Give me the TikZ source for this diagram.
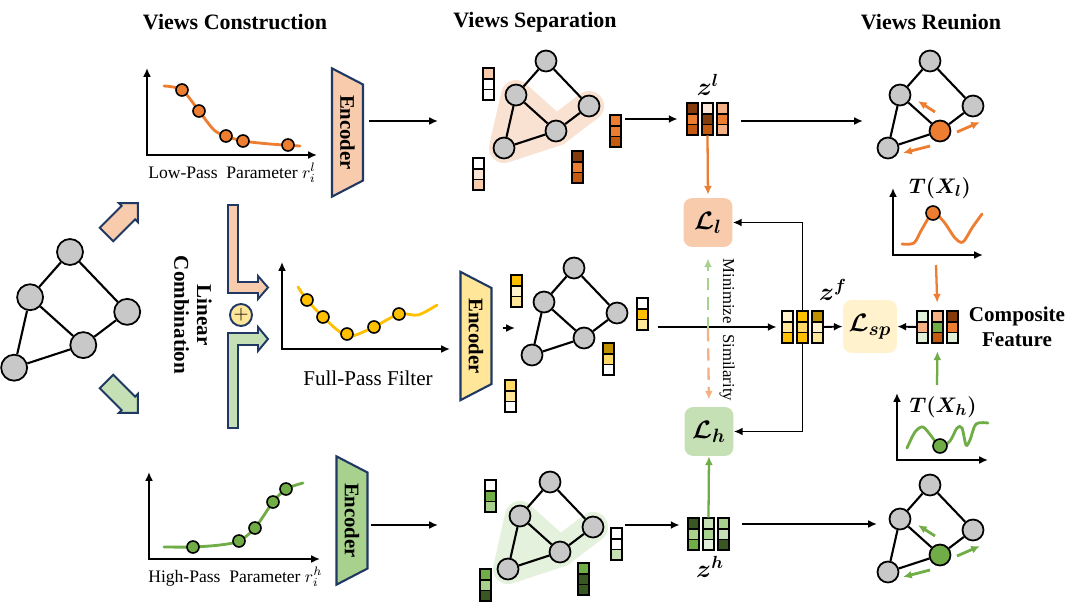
\documentclass[tikz,border=0pt]{standalone}
\usepackage{fontspec}
\setmainfont{Liberation Serif}
\usepackage{amsmath}
\usepackage{tikz}
\usetikzlibrary{shapes.geometric, arrows.meta, positioning, backgrounds}
\definecolor{navyline}{RGB}{32, 56, 100}
\definecolor{lowpeach}{RGB}{248, 203, 173}
\definecolor{lowpale}{RGB}{251, 229, 214}
\definecolor{lowmid}{RGB}{244, 177, 131}
\definecolor{loworange}{RGB}{237, 125, 49}
\definecolor{lowdeep}{RGB}{197, 90, 17}
\definecolor{lowbrown}{RGB}{132, 60, 12}
\definecolor{lowhalo}{RGB}{250, 226, 210}
\definecolor{fullgold}{RGB}{255, 192, 0}
\definecolor{fulldark}{RGB}{191, 144, 0}
\definecolor{fullmid}{RGB}{255, 217, 102}
\definecolor{fulllight}{RGB}{255, 230, 153}
\definecolor{fullpale}{RGB}{255, 242, 204}
\definecolor{highgreen}{RGB}{112, 173, 71}
\definecolor{highdark}{RGB}{56, 87, 35}
\definecolor{highmid}{RGB}{169, 209, 142}
\definecolor{highsoft}{RGB}{197, 224, 180}
\definecolor{highpale}{RGB}{226, 240, 217}
\definecolor{highhalo}{RGB}{228, 241, 220}
\definecolor{nodegray}{RGB}{200, 200, 200}

\tikzset{
    arr/.style={-{Latex[length=5pt, width=4.5pt]}, line width=1.1pt},
    dasharr/.style={-{Latex[length=5pt, width=4.5pt]}, line width=1.3pt, dash pattern=on 7pt off 4pt},
    axes/.style={{Latex[length=5pt, width=4.5pt]}-{Latex[length=5pt, width=4.5pt]}, line width=1.3pt},
    curve/.style={line width=1.6pt, line cap=round},
    dot/.style={draw=black, line width=0.9pt},
    gnode/.style={circle, draw=black, fill=nodegray, line width=1pt, minimum size=0.42cm, inner sep=0pt},
    gedge/.style={line width=1.2pt},
    cell/.style={draw=black, line width=1pt},
    hlband/.style={line width=0.6cm, line join=round, line cap=round},
    fatarrow/.style={draw=navyline, line width=1.1pt, line join=miter},
    encoder/.style={trapezium, trapezium angle=54, trapezium stretches, rotate=-90,
        draw=navyline, line width=1.2pt, minimum width=2.58cm, minimum height=0.62cm,
        inner sep=1pt, font=\fontsize{11.8}{13}\selectfont\bfseries},
    loss/.style={rounded corners=5pt, minimum width=0.98cm, minimum height=0.98cm,
        inner sep=0pt, font=\fontsize{15}{17}\selectfont},
    title/.style={font=\fontsize{12.5}{15}\selectfont\bfseries},
    plotlabel/.style={font=\fontsize{10}{12}\selectfont, anchor=west, inner sep=0pt},
    zlabel/.style={font=\fontsize{14}{16}\selectfont},
    tlabel/.style={font=\fontsize{12.5}{15}\selectfont}
}

% one feature vector of three cells, named by #1, top left corner #2
\newcommand{\featbar}[5]{%
    \begin{scope}[shift={#2}]
        \filldraw[cell, fill=#3] (0,0) rectangle (11,10.7);
        \filldraw[cell, fill=#4] (0,10.7) rectangle (11,21.4);
        \filldraw[cell, fill=#5] (0,21.4) rectangle (11,32);
        \node[inner sep=0pt, minimum width=0.22cm, minimum height=0.64cm] (#1) at (5.5,16) {};
    \end{scope}}

% the five node graph, #1 prefix, #2 top node, #3 scope options, #4 fill of the centre node
\newcommand{\graphview}[4]{%
    \begin{scope}[shift={#2}, #3]
        \node[gnode] (#1t) at (0,0) {};
        \node[gnode] (#1a) at (-30,34) {};
        \node[gnode] (#1b) at (43,45) {};
        \node[gnode, fill=#4] (#1c) at (10,70) {};
        \node[gnode] (#1d) at (-42,87) {};
    \end{scope}
    \draw[gedge] (#1t) -- (#1a) (#1t) -- (#1b) (#1a) -- (#1c) (#1a) -- (#1d) (#1c) -- (#1b) (#1c) -- (#1d);}

\begin{document}
\begin{tikzpicture}[x=0.02cm, y=-0.02cm]
    \useasboundingbox (0,0) rectangle (1080,602);
    \begin{pgfonlayer}{background}
        \fill[white] (0,0) rectangle (1080,602);
    \end{pgfonlayer}

    % column titles
    \node[title] (titleCons) at (235,22) {Views Construction};
    \node[title] (titleSep) at (535,22) {Views Separation};
    \node[title] (titleReu) at (931,22) {Views Reunion};

    % input graph and the two fat arrows
    \graphview{in}{(70,252)}{scale=1.33, gnode/.append style={minimum size=0.52cm}}{nodegray}
    \begin{scope}[shift={(122,219)}, rotate=45]
        \filldraw[fatarrow, fill=lowpeach] (-22,-9.5) -- (9,-9.5) -- (9,-13.5) -- (22.5,0) -- (9,13.5) -- (9,9.5) -- (-22,9.5) -- cycle;
    \end{scope}
    \begin{scope}[shift={(122,397)}, rotate=-45]
        \filldraw[fatarrow, fill=highsoft] (-22,-9.5) -- (9,-9.5) -- (9,-13.5) -- (22.5,0) -- (9,13.5) -- (9,9.5) -- (-22,9.5) -- cycle;
    \end{scope}

    % linear combination
    \node[rotate=-90, align=center, font=\fontsize{12}{13}\selectfont\bfseries] (linComb) at (193,315) {Linear\\Combination};
    \filldraw[fatarrow, fill=lowpeach] (228,205) -- (238,205) -- (238,282) -- (258,282) -- (258,276) -- (268,287.5) -- (258,299) -- (258,293) -- (228,293) -- cycle;
    \filldraw[fatarrow, fill=highsoft] (228,428) -- (238,428) -- (238,345) -- (258,345) -- (258,351) -- (268,339) -- (258,327) -- (258,333) -- (228,333) -- cycle;
    \node[circle, draw=navyline, fill=fulllight, line width=1.1pt, minimum size=0.44cm, inner sep=0pt,
          font=\fontsize{11}{12}\selectfont] (plus) at (241,315) {$+$};

    % low-pass filter
    \draw[axes] (147,68) -- (147,155) -- (317,155);
    \draw[curve, loworange] plot[smooth] coordinates {(164,86) (182,90) (199,111) (214,130) (226,136) (243,141) (270,144) (300,146)};
    \foreach \p in {(182,90),(199,111),(226,136),(243,141),(288,145)}
        \filldraw[dot, fill=loworange] \p circle (6);
    \node[plotlabel] (lowLabel) at (148,173) {Low-Pass~~Parameter $r_i^l$};

    % full-pass filter
    \draw[axes] (282,262) -- (282,349) -- (450,349);
    \draw[curve, fullgold] plot[smooth] coordinates {(298,287) (307,300) (323,317) (340,332) (352,336) (374,327) (399,314) (418,315) (437,305)};
    \foreach \p in {(307,300),(323,317),(347,334),(374,327),(399,314)}
        \filldraw[dot, fill=fullgold] \p circle (6);
    \node[font=\fontsize{12}{14}\selectfont] (fullLabel) at (368,378) {Full-Pass Filter};

    % high-pass filter
    \draw[axes] (149,472) -- (149,559) -- (320,559);
    \draw[curve, highgreen] plot[smooth] coordinates {(164,547) (193,547) (220,545) (239,541) (255,528) (273,502) (286,489) (303,483)};
    \foreach \p in {(193,547),(239,541),(255,528),(273,502),(286,489)}
        \filldraw[dot, fill=highgreen] \p circle (6);
    \node[plotlabel] (highLabel) at (148,577) {High-Pass~~Parameter $r_i^h$};

    % encoders
    \node[encoder, fill=lowpeach] (encL) at (347.5,132.5) {Encoder};
    \node[encoder, fill=fulllight] (encM) at (476,336) {Encoder};
    \node[encoder, fill=highmid] (encH) at (352,520.5) {Encoder};

    % separated views
    \graphview{st}{(546,61)}{}{nodegray}
    \graphview{sm}{(574,268)}{}{nodegray}
    \graphview{sb}{(550,482)}{}{nodegray}
    \featbar{tbarA}{(483,68)}{lowpeach}{white}{white}
    \featbar{tbarB}{(473,158)}{white}{lowpale}{lowpeach}
    \featbar{tbarC}{(572,151)}{lowbrown}{loworange}{lowdeep}
    \featbar{tbarD}{(610,115)}{loworange}{loworange}{lowdeep}
    \featbar{mbarA}{(511,275)}{fullgold}{fullpale}{fulllight}
    \featbar{mbarB}{(505,380)}{fullmid}{fulllight}{white}
    \featbar{mbarC}{(603,343)}{fulldark}{fullmid}{white}
    \featbar{mbarD}{(637,298)}{white}{fullgold}{fulllight}
    \featbar{bbarA}{(485,480)}{white}{highgreen}{highmid}
    \featbar{bbarB}{(480,569)}{highgreen}{highmid}{highdark}
    \featbar{bbarC}{(578,563)}{highgreen}{highdark}{highdark}
    \featbar{bbarD}{(611,528)}{white}{white}{highsoft}

    % view embeddings
    \featbar{zl1}{(687,103)}{lowbrown}{loworange}{lowdeep}
    \featbar{zl2}{(702,103)}{lowpale}{lowbrown}{lowdeep}
    \featbar{zl3}{(717,103)}{lowmid}{loworange}{lowmid}
    \featbar{zf1}{(782,311)}{fullpale}{fulllight}{fullgold}
    \featbar{zf2}{(797,311)}{fullgold}{fullmid}{fullgold}
    \featbar{zf3}{(812,311)}{fulldark}{fullpale}{fulllight}
    \featbar{zh1}{(688,518)}{highdark}{highmid}{highgreen}
    \featbar{zh2}{(703,518)}{highsoft}{highmid}{highpale}
    \featbar{zh3}{(718,518)}{highmid}{highsoft}{highdark}
    \node[zlabel] (zlLabel) at (708,85) {$\boldsymbol{z}^{\boldsymbol{l}}$};
    \node[zlabel] (zfLabel) at (833,290) {$\boldsymbol{z}^{\boldsymbol{f}}$};
    \node[zlabel] (zhLabel) at (710,567) {$\boldsymbol{z}^{\boldsymbol{h}}$};

    % losses
    \node[loss, fill=lowpeach] (Ll) at (708,222.5) {$\boldsymbol{\mathcal{L}_{l}}$};
    \node[loss, fill=highsoft] (Lh) at (709,431.5) {$\boldsymbol{\mathcal{L}_{h}}$};
    \node[loss, fill=fullpale, minimum width=1.08cm, minimum height=1.06cm] (Lsp) at (870,326.5) {$\boldsymbol{\mathcal{L}_{sp}}$};
    \node[rotate=-90, font=\fontsize{9.5}{11}\selectfont] (simLabel) at (727,330) {Minimize\hspace{6pt}Similarity};

    % reunion side
    \graphview{rt}{(930,61)}{}{loworange}
    \graphview{rb}{(930,485)}{}{highgreen}
    \featbar{comp1}{(917,311)}{highpale}{lowmid}{highpale}
    \featbar{comp2}{(932,311)}{lowmid}{highgreen}{lowdeep}
    \featbar{comp3}{(947,311)}{lowbrown}{loworange}{highpale}
    \node[align=center, font=\fontsize{12}{14}\selectfont\bfseries] (compLabel) at (1017,327) {Composite\\Feature};

    \draw[axes] (893,188) -- (893,255) -- (983,255);
    \draw[curve, loworange] plot[smooth] coordinates {(902,244) (914,243) (922,229) (933,213) (944,222) (955,238) (963,242) (972,228) (982,214)};
    \filldraw[dot, fill=loworange] (933,213) circle (7);
    \node[tlabel] (tlLabel) at (940,188) {$\boldsymbol{T(X_l)}$};
    \draw[axes] (897,393) -- (897,460) -- (988,460);
    \draw[curve, highgreen] plot[smooth] coordinates {(907,448) (915,432) (923,427) (932,437) (940,447) (950,441) (957,428) (962,428) (966,445) (970,440) (976,424) (988,423)};
    \filldraw[dot, fill=highgreen] (940,446) circle (7);
    \node[tlabel] (thLabel) at (943,407) {$\boldsymbol{T(X_h)}$};

    % free ends of connectors
    \coordinate (sepTin) at (438,121);
    \coordinate (sepHin) at (438,525);
    \coordinate (midIn) at (515,328);
    \coordinate (reuTin) at (863,121);
    \coordinate (reuHin) at (877,524);
    \coordinate (simMid) at (708,329);
    \coordinate (tlFoot) at (936,265);
    \coordinate (thTop) at (937,385);

    % connectors
    \draw[arr, shorten <=0.1cm] (encL.north |- sepTin) -- (sepTin);
    \draw[arr, shorten <=0.2cm] (encM.north |- midIn) -- (midIn);
    \draw[arr, shorten <=0.04cm] (encH.north |- sepHin) -- (sepHin);
    \draw[arr, shorten <=0.08cm, shorten >=0.18cm] (tbarD.east |- zl1.west) -- (zl1.west);
    \draw[arr, shorten <=0.2cm, shorten >=0.1cm] (mbarD.east |- zf1.west) -- (zf1.west);
    \draw[arr, shorten <=0.06cm, shorten >=0.16cm] (bbarD.east |- sepHin) -- (sepHin -| zh1.west);
    \draw[arr, shorten <=0.26cm] (zl3.east |- reuTin) -- (reuTin);
    \draw[arr, shorten <=0.26cm] (zh3.east |- reuHin) -- (reuHin);
    \draw[arr, loworange, line width=1.3pt, shorten >=0.06cm] (zl2.south) -- (Ll.north);
    \draw[arr, highgreen, line width=1.3pt] (zh2.north) -- (Lh.south);
    \draw[dasharr, highmid, shorten >=0.22cm] (simMid) -- (Ll.south);
    \draw[dasharr, lowmid, shorten >=0.14cm] (simMid) -- (Lh.north);
    \draw[arr] (zf3.east) -- (Lsp.west);
    \draw[arr] (comp1.west) -- (Lsp.east);
    \draw[arr, loworange, line width=1.3pt, shorten >=0.16cm] (tlFoot) -- (comp2.north);
    \draw[arr, highgreen, line width=1.3pt, shorten >=0.16cm] (thTop) -- (comp2.south);

    % message passing around the centre node
    \draw[arr, loworange, line width=1.6pt] ([shift={(-5,-19)}]rtc.center) -- ([shift={(-22,-30)}]rtc.center);
    \draw[arr, loworange, line width=1.6pt] ([shift={(17,1)}]rtc.center) -- ([shift={(40,-9)}]rtc.center);
    \draw[arr, loworange, line width=1.6pt] ([shift={(-10,15)}]rtc.center) -- ([shift={(-37,22)}]rtc.center);
    \draw[arr, highgreen, line width=1.6pt] ([shift={(-5,-19)}]rbc.center) -- ([shift={(-22,-30)}]rbc.center);
    \draw[arr, highgreen, line width=1.6pt] ([shift={(17,1)}]rbc.center) -- ([shift={(40,-9)}]rbc.center);
    \draw[arr, highgreen, line width=1.6pt] ([shift={(-10,15)}]rbc.center) -- ([shift={(-37,22)}]rbc.center);

    % halos and the split of z^f, behind everything
    \begin{pgfonlayer}{background}
        \filldraw[hlband, lowhalo] (sta.center) -- (std.center) -- (stc.center) -- cycle;
        \draw[hlband, lowhalo] (stc.center) -- (stb.center);
        \filldraw[hlband, highhalo] (sba.center) -- (sbd.center) -- (sbc.center) -- cycle;
        \draw[hlband, highhalo] (sbc.center) -- (sbb.center);
        \draw[arr] (zf2.center) |- (Ll.east);
        \draw[arr] (zf2.center) |- (Lh.east);
    \end{pgfonlayer}
\end{tikzpicture}
\end{document}
